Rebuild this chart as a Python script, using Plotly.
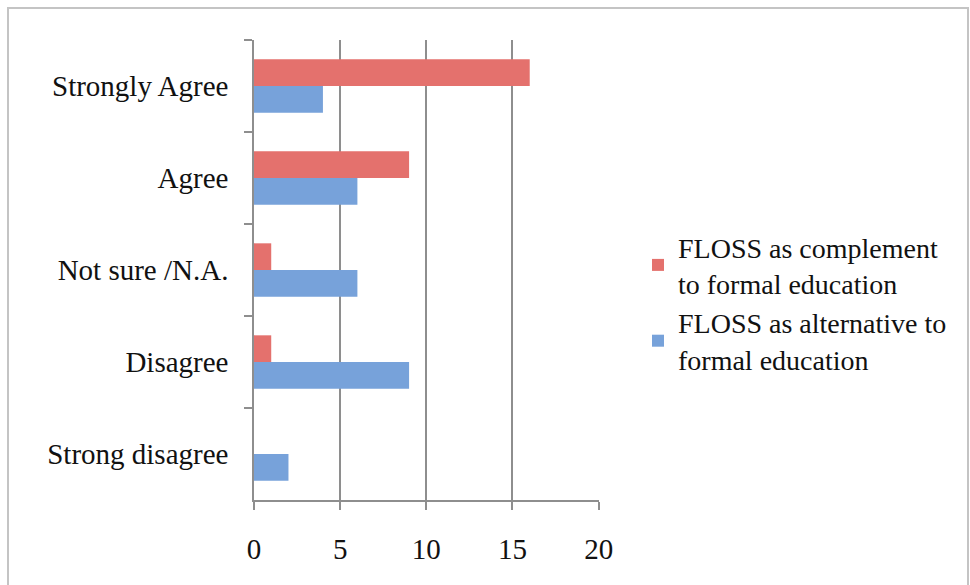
import plotly.graph_objects as go

# Survey responses per agreement level
categories = ["Strongly Agree", "Agree", "Not sure /N.A.", "Disagree", "Strong disagree"]
complement_counts = [16, 9, 1, 1, 0]
alternative_counts = [4, 6, 6, 9, 2]
series_names = [
    "FLOSS as complement<br>to formal education",
    "FLOSS as alternative to<br>formal education",
]
x_tick_values = [0, 5, 10, 15, 20]

# Canvas and plot-area geometry (pixels)
W, H = 970, 585
L, R, T, B = 254, 371, 40, 85
PW, PH = W - L - R, H - T - B

FONT = "Liberation Serif"
GRID = "#8e8e8e"
RED = "#e4716d"
BLUE = "#77a2da"
TEXT = "#111111"


def px_x(p):
    return (p - L) / PW


def px_y(p):
    return (H - B - p) / PH


fig = go.Figure()
fig.add_trace(go.Bar(
    y=categories, x=complement_counts, orientation="h", name=series_names[0],
    marker=dict(color=RED, line=dict(width=0)),
))
fig.add_trace(go.Bar(
    y=categories, x=alternative_counts, orientation="h", name=series_names[1],
    marker=dict(color=BLUE, line=dict(width=0)),
))

fig.update_layout(
    width=W, height=H,
    margin=dict(l=L, r=R, t=T, b=B, pad=0),
    paper_bgcolor="white", plot_bgcolor="white",
    barmode="group", bargap=0.42, bargroupgap=0.0,
    font=dict(family=FONT, size=29, color=TEXT),
    showlegend=True,
    legend=dict(
        x=px_x(638), y=px_y(222), xanchor="left", yanchor="top",
        font=dict(family=FONT, size=28, color=TEXT),
        bgcolor="rgba(0,0,0,0)", tracegroupgap=0, itemwidth=30,
    ),
    xaxis=dict(
        range=[0, 20.02], tickvals=x_tick_values, ticktext=[str(v) for v in x_tick_values],
        showgrid=True, gridcolor=GRID, gridwidth=1.5,
        showline=True, linecolor=GRID, linewidth=1.5,
        ticks="outside", ticklen=8, tickcolor=GRID, tickwidth=1.5,
        zeroline=False, ticklabelstandoff=14,
        tickfont=dict(family=FONT, size=29, color=TEXT),
    ),
    yaxis=dict(
        type="category", categoryorder="array", categoryarray=categories,
        autorange="reversed", tickson="boundaries",
        showgrid=False, showline=True, linecolor=GRID, linewidth=1.5,
        ticks="outside", ticklen=8, tickcolor=GRID, tickwidth=1.5,
        zeroline=False, ticklabelstandoff=18,
        tickfont=dict(family=FONT, size=29, color=TEXT),
    ),
    shapes=[dict(
        type="rect", xref="paper", yref="paper",
        x0=px_x(8), x1=px_x(968), y0=px_y(600), y1=px_y(8),
        line=dict(color="#c4c4c4", width=2), fillcolor="rgba(0,0,0,0)", layer="below",
    )],
)

fig.write_html("out.html")
